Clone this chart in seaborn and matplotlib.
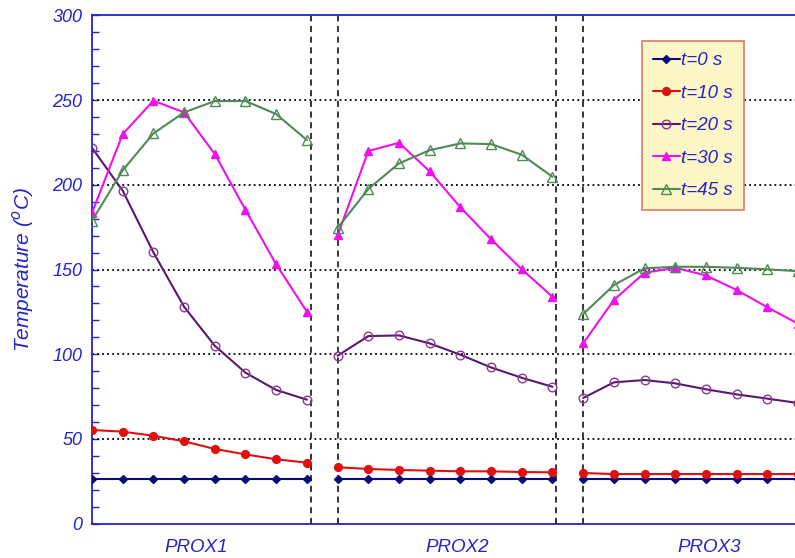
import numpy as np
import pandas as pd
import matplotlib
matplotlib.use("Agg")
import matplotlib.pyplot as plt
import seaborn as sns
from matplotlib.lines import Line2D
from matplotlib.ticker import MultipleLocator

# ---- data ----
groups = ["PROX1", "PROX2", "PROX3"]
group_start = [0, 8, 16]          # x index of first point in each group
series_labels = ["t=0 s", "t=10 s", "t=20 s", "t=30 s", "t=45 s"]

t0_p1 = [26.5, 26.5, 26.5, 26.5, 26.5, 26.5, 26.5, 26.5]
t0_p2 = [26.5, 26.5, 26.5, 26.5, 26.5, 26.5, 26.5, 26.5]
t0_p3 = [26.5, 26.5, 26.5, 26.5, 26.5, 26.5, 26.5, 26.5]

t10_p1 = [55.3, 54.3, 51.9, 48.6, 44.1, 40.9, 38.0, 36.0]
t10_p2 = [33.3, 32.3, 31.7, 31.3, 30.9, 30.9, 30.5, 30.3]
t10_p3 = [29.9, 29.3, 29.3, 29.3, 29.3, 29.3, 29.3, 29.3]

t20_p1 = [221.8, 196.5, 160.1, 128.0, 105.0, 89.1, 78.9, 73.2]
t20_p2 = [99.1, 110.7, 111.1, 106.4, 99.7, 92.2, 86.1, 80.8]
t20_p3 = [74.2, 83.4, 84.8, 82.8, 79.3, 76.3, 73.8, 71.2]

t30_p1 = [183.5, 229.9, 249.6, 242.7, 218.1, 185.2, 153.0, 125.1]
t30_p2 = [170.1, 219.9, 224.8, 207.9, 186.7, 167.8, 150.1, 133.9]
t30_p3 = [106.4, 132.0, 148.1, 151.0, 146.5, 137.9, 127.7, 118.0]

t45_p1 = [178.8, 208.5, 230.3, 242.7, 249.4, 249.4, 241.7, 226.4]
t45_p2 = [174.5, 197.5, 212.6, 220.4, 224.4, 224.0, 217.7, 204.7]
t45_p3 = [123.7, 140.8, 150.7, 151.6, 151.6, 151.0, 150.1, 149.0]

yticks = [0, 50, 100, 150, 200, 250, 300]

series_data = [
    [t0_p1, t0_p2, t0_p3],
    [t10_p1, t10_p2, t10_p3],
    [t20_p1, t20_p2, t20_p3],
    [t30_p1, t30_p2, t30_p3],
    [t45_p1, t45_p2, t45_p3],
]

# ---- styles ----
styles = [
    dict(color="#0a0a78", marker="D", mfc="#0a0a78", mec="#0a0a78", ms=4.2),
    dict(color="#e01010", marker="o", mfc="#e01010", mec="#e01010", ms=5.6),
    dict(color="#5a1870", marker="o", mfc="none", mec="#8a3a8a", ms=6.2),
    dict(color="#ee10ee", marker="^", mfc="#ee10ee", mec="#ee10ee", ms=6.2),
    dict(color="#4e8a55", marker="^", mfc="none", mec="#4e8a55", ms=6.5),
]

sns.set_theme(style="white")
plt.rcParams["font.family"] = ["Liberation Sans", "DejaVu Sans"]
blue = "#2424c8"

fig = plt.figure(figsize=(7.95, 5.58), dpi=100)
ax = fig.add_axes([92 / 795, 34.3 / 558, 1 - 92 / 795, (523.7 - 15.3) / 558])

# grid lines
for yv in [50, 100, 150, 200, 250]:
    ax.axhline(yv, color="black", lw=1.3, ls=(0, (1, 1.8)), zorder=1)
for xv in [7.12, 8.0, 15.12, 16.0]:
    ax.axvline(xv, color="black", lw=1.1, ls=(0, (4, 3)), zorder=1)

for s_idx, (lab, sty) in enumerate(zip(series_labels, styles)):
    for g_idx, vals in enumerate(series_data[s_idx]):
        x = np.arange(len(vals)) + group_start[g_idx]
        df = pd.DataFrame({"x": x, "y": vals})
        sns.lineplot(data=df, x="x", y="y", ax=ax, color=sty["color"], lw=1.5,
                     marker=sty["marker"], markersize=sty["ms"],
                     markerfacecolor=sty["mfc"], markeredgecolor=sty["mec"],
                     markeredgewidth=1.0, zorder=3 + s_idx, clip_on=True)

ax.set_xlim(0, 22.9)
ax.set_ylim(0, 300)
ax.set_yticks(yticks)
ax.set_yticklabels([str(v) for v in yticks], color=blue, fontsize=13, style="italic")
ax.yaxis.set_minor_locator(MultipleLocator(10))
ax.tick_params(axis="y", which="both", direction="in", length=5, color=blue, width=1, left=True, pad=7)
ax.set_xticks([3.4, 11.9, 20.1])
ax.set_xticklabels(groups, color=blue, fontsize=13.5, style="italic")
ax.tick_params(axis="x", which="both", length=0, pad=11)
ax.set_xlabel("")
ax.set_ylabel("Temperature ($^o$C)", color=blue, fontsize=15, style="italic", va="center")
ax.yaxis.set_label_coords(-0.098, 0.5)

for sp in ["left", "bottom", "top"]:
    ax.spines[sp].set_color(blue)
    ax.spines[sp].set_linewidth(1.3)
    ax.spines[sp].set_visible(True)
ax.spines["right"].set_visible(False)

handles = [Line2D([0], [0], color=st["color"], lw=1.5, marker=st["marker"], markersize=st["ms"],
                  markerfacecolor=st["mfc"], markeredgecolor=st["mec"]) for st in styles]
leg = ax.legend(handles, series_labels, loc="upper left", bbox_to_anchor=((642 - 92) / 703, 1 - (40.7 - 15.3) / 508.4),
                frameon=True, fancybox=False, fontsize=13.5, handlelength=1.4, handletextpad=0.1,
                labelspacing=0.82, borderpad=0.6, borderaxespad=0)
leg.get_frame().set_facecolor("#fdf6c6")
leg.get_frame().set_edgecolor("#e07a60")
leg.get_frame().set_linewidth(1.2)
leg.get_frame().set_alpha(1)
for t in leg.get_texts():
    t.set_color(blue)
    t.set_style("italic")
leg.set_zorder(20)

fig.savefig("out.png", dpi=100)
